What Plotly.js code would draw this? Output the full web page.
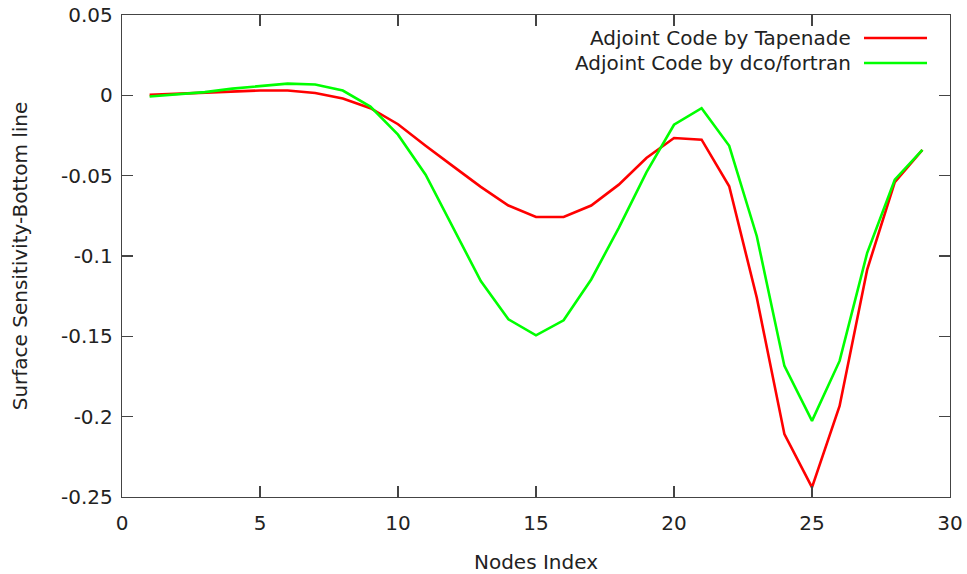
<!DOCTYPE html>
<html>
<head>
<meta charset="utf-8">
<script src="https://cdn.plot.ly/plotly-3.0.1.min.js"></script>
<style>html,body{margin:0;padding:0;background:#fff;}#chart{width:967px;height:574px;}</style>
</head>
<body>
<div id="chart"></div>
<script>
const nodes = [1,2,3,4,5,6,7,8,9,10,11,12,13,14,15,16,17,18,19,20,21,22,23,24,25,26,27,28,29];
const tapenade = [0.0003,0.001,0.0015,0.0024,0.003,0.003,0.0015,-0.002,-0.008,-0.018,-0.0314,-0.0442,-0.057,-0.0686,-0.0757,-0.0757,-0.0686,-0.0556,-0.039,-0.0266,-0.0276,-0.0566,-0.126,-0.2109,-0.244,-0.1933,-0.1084,-0.054,-0.0339];
const dco = [-0.0007,0.0007,0.002,0.0042,0.0059,0.0073,0.0067,0.003,-0.007,-0.0245,-0.0494,-0.0825,-0.1156,-0.1394,-0.1494,-0.140,-0.1146,-0.0825,-0.048,-0.0183,-0.008,-0.0314,-0.0877,-0.1684,-0.2026,-0.1653,-0.098,-0.0525,-0.0339];
const seriesNames = ["Adjoint Code by Tapenade", "Adjoint Code by dco/fortran"];
const seriesColors = ["#ff0000", "#00ff00"];
const xTickVals = [0,5,10,15,20,25,30];
const xTickText = ["0","5","10","15","20","25","30"];
const yTickVals = [0.05,0,-0.05,-0.1,-0.15,-0.2,-0.25];
const yTickText = ["0.05","0","-0.05","-0.1","-0.15","-0.2","-0.25"];
const xTitle = "Nodes Index";
const yTitle = "Surface Sensitivity-Bottom line";

const font = {family: "DejaVu Sans, sans-serif", size: 20, color: "#222"};
const traces = [tapenade, dco].map((ys, i) => ({
  x: nodes, y: ys, type: "scatter", mode: "lines", name: seriesNames[i],
  line: {color: seriesColors[i], width: 2.6}, showlegend: false
}));

// legend: right-aligned text with sample line to the right (gnuplot style)
const legendY = [38, 63];
const annotations = seriesNames.map((n, i) => ({
  text: n, xref: "paper", yref: "paper", showarrow: false,
  x: (853 - 122) / 828, y: 1 - (legendY[i] - 15) / 482,
  xanchor: "right", yanchor: "middle", font: font
}));
const shapes = seriesNames.map((n, i) => ({
  type: "line", xref: "paper", yref: "paper",
  x0: (864 - 122) / 828, x1: (927 - 122) / 828,
  y0: 1 - (legendY[i] - 15) / 482, y1: 1 - (legendY[i] - 15) / 482,
  line: {color: seriesColors[i], width: 2.6}
}));

const axisCommon = {
  showgrid: false, zeroline: false, showline: true, linecolor: "#444", linewidth: 1.3,
  mirror: "allticks", ticks: "inside", ticklen: 11, tickcolor: "#444", tickwidth: 1.3,
  tickfont: font, tickmode: "array"
};

const layout = {
  width: 967, height: 574,
  margin: {l: 122, r: 17, t: 15, b: 77},
  paper_bgcolor: "#fff", plot_bgcolor: "#fff",
  font: font,
  xaxis: Object.assign({}, axisCommon, {
    range: [0, 30], tickvals: xTickVals, ticktext: xTickText,
    ticklabelstandoff: 8,
    title: {text: xTitle, font: font, standoff: 22}
  }),
  yaxis: Object.assign({}, axisCommon, {
    range: [-0.25, 0.05], tickvals: yTickVals, ticktext: yTickText,
    ticklabelstandoff: 4,
    title: {text: yTitle, font: font, standoff: 28}
  }),
  annotations: annotations,
  shapes: shapes
};

Plotly.newPlot("chart", traces, layout, {displayModeBar: false, staticPlot: true});
</script>
</body>
</html>
